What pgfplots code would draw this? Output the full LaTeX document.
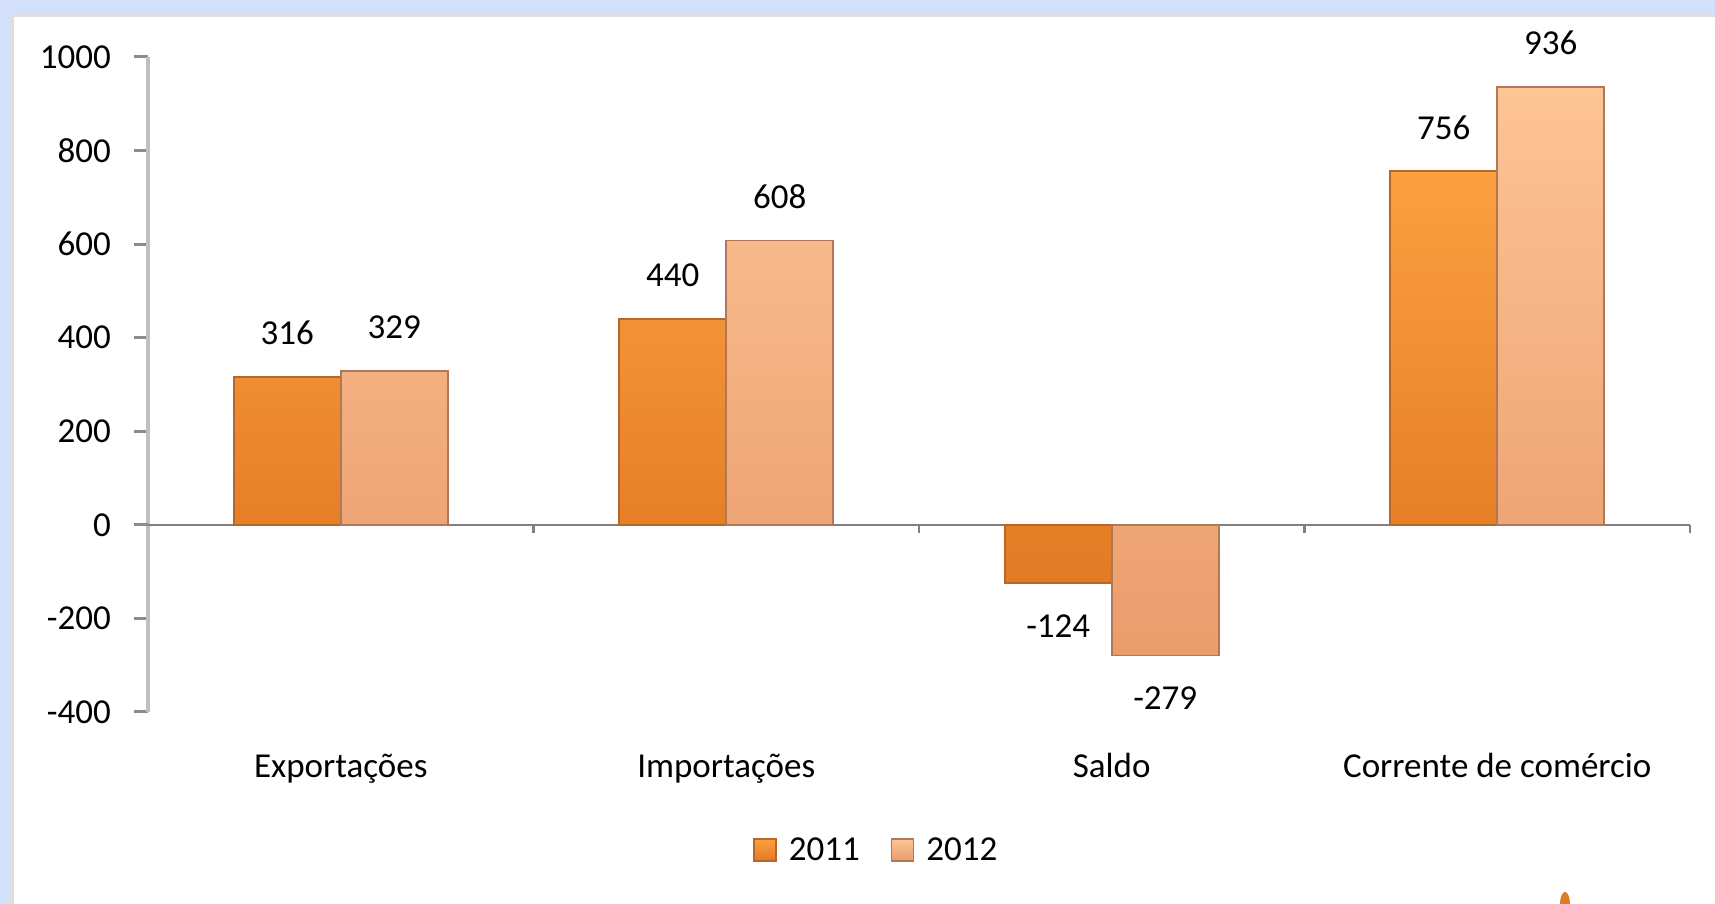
\documentclass[border=0pt]{standalone}
\usepackage{fontspec}
\setmainfont{Carlito}
\usepackage{pgfplots}
\pgfplotsset{compat=1.18}
\definecolor{bgblue}{HTML}{D2E0FB}
\definecolor{frameg}{HTML}{DEDEDE}
\definecolor{oA}{HTML}{F8882A}
\definecolor{oAtop}{HTML}{FBA040}
\definecolor{oAbot}{HTML}{E27A24}
\definecolor{oAdraw}{HTML}{B8662A}
\definecolor{oB}{HTML}{FCB080}
\definecolor{oBtop}{HTML}{FDC496}
\definecolor{oBbot}{HTML}{EA9C6C}
\definecolor{oBdraw}{HTML}{B07858}
\newcommand{\cfont}{\fontsize{17.5}{20}\selectfont}
\begin{document}
\begin{tikzpicture}[x=1pt,y=1pt]
\useasboundingbox (0,0) rectangle (857.5,452);
\fill[bgblue] (0,0) rectangle (857.5,452);
\fill[frameg] (5,0) rectangle (857.5,445.5);
\fill[white] (7,0) rectangle (857.5,443.5);
\fill[oA!90!black] (782.5,0) ellipse (2.5pt and 6pt);
\begin{axis}[
  at={(74pt,96pt)}, anchor=south west,
  scale only axis, width=771pt, height=327.5pt,
  ymin=-400, ymax=1000, xmin=-0.5, xmax=3.5,
  clip=false,
  separate axis lines,
  axis y line*=left, axis x line*=bottom,
  x axis line style={draw=none},
  y axis line style={draw=black!25, line width=2pt},
  ytick={-400,-200,0,200,400,600,800,1000},
  xtick={0,1,2,3},
  xticklabels={Exportações,Importações,Saldo,Corrente de comércio},
  x tick style={draw=none},
  major x tick style={draw=none},
  y tick style={draw=black!45, line width=1.5pt},
  major tick length=7pt,
  tick align=outside,
  /pgf/number format/assume math mode=true,
  /pgf/number format/1000 sep={},
  ticklabel style={font=\cfont, text=black},
  yticklabel style={anchor=east, xshift=-8pt},
  xticklabel style={anchor=base, yshift=-26pt},
  extra y ticks={0}, extra y tick labels={},
  extra y tick style={grid=major, major grid style={draw=black!50, line width=1.3pt}},
  ybar=0pt, bar width=53.5pt,
  nodes near coords,
  every node near coord/.append style={font=\cfont, text=black, inner sep=15.5pt},
  legend style={at={(0.473,-0.211)}, anchor=center, draw=none, fill=none,
    legend columns=2, font=\cfont,
    /tikz/every even column/.append style={column sep=13.5pt}},
  legend image code/.code={\draw[#1] (0pt,-5.5pt) rectangle (11pt,5.5pt); \path (15pt,0pt);},
]
\addplot[draw=oAdraw, line width=0.8pt, top color=oAtop, middle color=oA, bottom color=oAbot]
  coordinates {(0,316) (1,440) (2,-124) (3,756)};
\addplot[draw=oBdraw, line width=0.8pt, top color=oBtop, middle color=oB, bottom color=oBbot]
  coordinates {(0,329) (1,608) (2,-279) (3,936)};
\legend{2011,2012}
\draw[black!50, line width=1.2pt] (axis cs:0.5,0) -- ++(0pt,-4pt);
\draw[black!50, line width=1.2pt] (axis cs:1.5,0) -- ++(0pt,-4pt);
\draw[black!50, line width=1.2pt] (axis cs:2.5,0) -- ++(0pt,-4pt);
\draw[black!50, line width=1.2pt] (axis cs:3.5,0) -- ++(0pt,-4pt);
\end{axis}
\end{tikzpicture}
\end{document}
